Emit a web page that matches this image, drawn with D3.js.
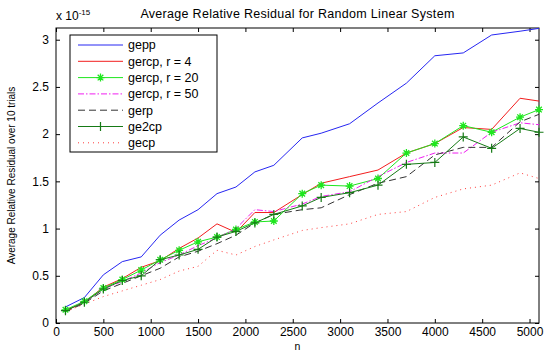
<!DOCTYPE html>
<html>
<head>
<meta charset="utf-8">
<style>
    body { margin: 0; background: #fff; }
    svg { font-family: 'Liberation Sans', Arial, sans-serif; }
    .axis .domain { display: none; }
    .axis .tick line { stroke: #000; }
    .axis .tick text { font-size: 12px; fill: #000; }
</style>
</head>
<body>
<svg width="545" height="350"></svg>

<script src="https://d3js.org/d3.v7.min.js"></script>
<script>
    // matrix sizes
    let nValues = [100, 300, 500, 700, 900, 1100, 1300, 1500, 1700, 1900, 2100,
        2300, 2600, 2800, 3100, 3400, 3700, 4000, 4300, 4600, 4900, 5100]

    // residuals, in units of 1e-15
    let gepp = [0.17, 0.27, 0.51, 0.65, 0.70, 0.93, 1.09, 1.20, 1.37, 1.44, 1.60,
        1.67, 1.96, 2.01, 2.11, 2.33, 2.54, 2.83, 2.86, 3.05, 3.09, 3.12]
    let gercp4 = [0.13, 0.22, 0.38, 0.47, 0.59, 0.66, 0.79, 0.90, 1.05, 0.96, 1.17,
        1.17, 1.36, 1.48, 1.55, 1.62, 1.80, 1.90, 2.07, 2.05, 2.38, 2.35]
    let gercp20 = [0.14, 0.23, 0.37, 0.46, 0.56, 0.67, 0.77, 0.86, 0.91, 0.99, 1.07,
        1.08, 1.37, 1.46, 1.45, 1.53, 1.80, 1.90, 2.09, 2.02, 2.18, 2.26]
    let gercp50 = [0.13, 0.22, 0.36, 0.44, 0.53, 0.64, 0.72, 0.82, 0.90, 1.00, 1.20,
        1.18, 1.26, 1.34, 1.39, 1.55, 1.70, 1.80, 1.80, 2.02, 2.12, 2.10]
    let gerp = [0.12, 0.21, 0.34, 0.42, 0.50, 0.58, 0.70, 0.76, 0.84, 0.93, 1.06,
        1.15, 1.20, 1.22, 1.36, 1.48, 1.55, 1.78, 1.86, 1.86, 2.13, 2.21]
    let ge2cp = [0.13, 0.22, 0.36, 0.45, 0.50, 0.67, 0.72, 0.78, 0.91, 0.97, 1.06,
        1.15, 1.24, 1.33, 1.38, 1.46, 1.68, 1.70, 1.97, 1.85, 2.06, 2.02]
    let gecp = [0.12, 0.20, 0.28, 0.34, 0.40, 0.46, 0.55, 0.60, 0.77, 0.72, 0.81,
        0.88, 0.98, 1.01, 1.05, 1.15, 1.18, 1.33, 1.42, 1.46, 1.59, 1.53]

    let xTicks = [0, 500, 1000, 1500, 2000, 2500, 3000, 3500, 4000, 4500, 5000]
    let yTicks = [0, 0.5, 1, 1.5, 2, 2.5, 3]

    let series = [
        { name: "gepp", values: gepp, color: "#2626f2", dash: null, marker: null },
        { name: "gercp, r = 4", values: gercp4, color: "#f21d1d", dash: null, marker: null },
        { name: "gercp, r = 20", values: gercp20, color: "#1ee61e", dash: null, marker: "star" },
        { name: "gercp, r = 50", values: gercp50, color: "#f01ef0", dash: "6,2,1.5,2", marker: null },
        { name: "gerp", values: gerp, color: "#333", dash: "7,4", marker: null },
        { name: "ge2cp", values: ge2cp, color: "#167a16", dash: null, marker: "plus" },
        { name: "gecp", values: gecp, color: "#ff3a3a", dash: "1,4", marker: null }
    ]

    let svg = d3.select("svg")

    let margin = { top: 28, right: 6, bottom: 27, left: 56 }
    let width = 545, height = 350

    let x = d3.scaleLinear()
        .domain([0, 5100])
        .range([margin.left, width - margin.right])

    let y = d3.scaleLinear()
        .domain([0, 3.124])
        .range([height - margin.bottom, margin.top])

    // axes (matlab style: ticks inside on all sides)
    svg.append("g")
        .attr("class", "axis")
        .attr("transform", `translate(0,${y(0)})`)
        .call(d3.axisBottom(x).tickValues(xTicks).tickSizeInner(-4).tickSizeOuter(0).tickPadding(4)
            .tickFormat(d3.format("d")))

    svg.append("g")
        .attr("class", "axis")
        .attr("transform", `translate(0,${y.range()[1]})`)
        .call(d3.axisTop(x).tickValues(xTicks).tickSizeInner(-4).tickSizeOuter(0).tickFormat(""))

    svg.append("g")
        .attr("class", "axis")
        .attr("transform", `translate(${x(0)},0)`)
        .call(d3.axisLeft(y).tickValues(yTicks).tickSizeInner(-4).tickSizeOuter(0).tickPadding(7)
            .tickFormat(d3.format("")))

    svg.append("g")
        .attr("class", "axis")
        .attr("transform", `translate(${x.range()[1]},0)`)
        .call(d3.axisRight(y).tickValues(yTicks).tickSizeInner(-4).tickSizeOuter(0).tickFormat(""))

    svg.append("rect")
        .attr("x", x.range()[0])
        .attr("y", y.range()[1])
        .attr("width", x.range()[1] - x.range()[0])
        .attr("height", y.range()[0] - y.range()[1])
        .attr("fill", "none")
        .attr("stroke", "#000")

    // lines
    let line = d3.line()
        .x((d, i) => x(nValues[i]))
        .y(d => y(d))

    let plot = svg.append("g")

    series.forEach(s => {
        plot.append("path")
            .attr("d", line(s.values))
            .attr("fill", "none")
            .attr("stroke", s.color)
            .attr("stroke-width", 1)
            .attr("stroke-dasharray", s.dash)
    })

    function drawMarker(g, type, cx, cy, color) {
        if (type == "star") {
            let r = 4
            g.append("path")
                .attr("d", `M${cx - r},${cy}H${cx + r}M${cx},${cy - r}V${cy + r}` +
                    `M${cx - r * 0.7},${cy - r * 0.7}L${cx + r * 0.7},${cy + r * 0.7}` +
                    `M${cx - r * 0.7},${cy + r * 0.7}L${cx + r * 0.7},${cy - r * 0.7}`)
                .attr("stroke", color)
                .attr("stroke-width", 1.3)
        } else if (type == "plus") {
            let r = 4.5
            g.append("path")
                .attr("d", `M${cx - r},${cy}H${cx + r}M${cx},${cy - r}V${cy + r}`)
                .attr("stroke", color)
                .attr("stroke-width", 1.2)
        }
    }

    series.filter(s => s.marker).forEach(s => {
        let g = plot.append("g")
        s.values.forEach((v, i) => drawMarker(g, s.marker, x(nValues[i]), y(v), s.color))
    })

    // legend
    let legend = svg.append("g")
    legend.append("rect")
        .attr("x", 70).attr("y", 35)
        .attr("width", 147).attr("height", 117)
        .attr("fill", "#fff")
        .attr("stroke", "#000")

    series.forEach((s, i) => {
        let ly = 45 + i * 16.3
        legend.append("line")
            .attr("x1", 78).attr("x2", 123)
            .attr("y1", ly).attr("y2", ly)
            .attr("stroke", s.color)
            .attr("stroke-dasharray", s.dash)
        if (s.marker) drawMarker(legend, s.marker, 100.5, ly, s.color)
        legend.append("text")
            .attr("x", 128)
            .attr("y", ly)
            .attr("dy", "0.35em")
            .style("font-size", "12.5px")
            .text(s.name)
    })

    // title and labels
    svg.append("text")
        .attr("x", (x.range()[0] + x.range()[1]) / 2)
        .attr("y", 18)
        .attr("text-anchor", "middle")
        .style("font-size", "12.5px")
        .style("letter-spacing", "0.3px")
        .text("Average Relative Residual for Random Linear System")

    let expo = svg.append("text")
        .attr("x", 56)
        .attr("y", 20)
        .style("font-size", "12px")
    expo.append("tspan").text("x 10")
    expo.append("tspan").attr("dy", -5).style("font-size", "8px").text("-15")

    svg.append("text")
        .attr("transform", `translate(15,${(y.range()[0] + y.range()[1]) / 2}) rotate(-90)`)
        .attr("text-anchor", "middle")
        .style("font-size", "10px")
        .text("Average Relative Residual over 10 trials")

    svg.append("text")
        .attr("x", (x.range()[0] + x.range()[1]) / 2)
        .attr("y", 349.5)
        .attr("text-anchor", "middle")
        .style("font-size", "10.5px")
        .text("n")
</script>
</body>
</html>
